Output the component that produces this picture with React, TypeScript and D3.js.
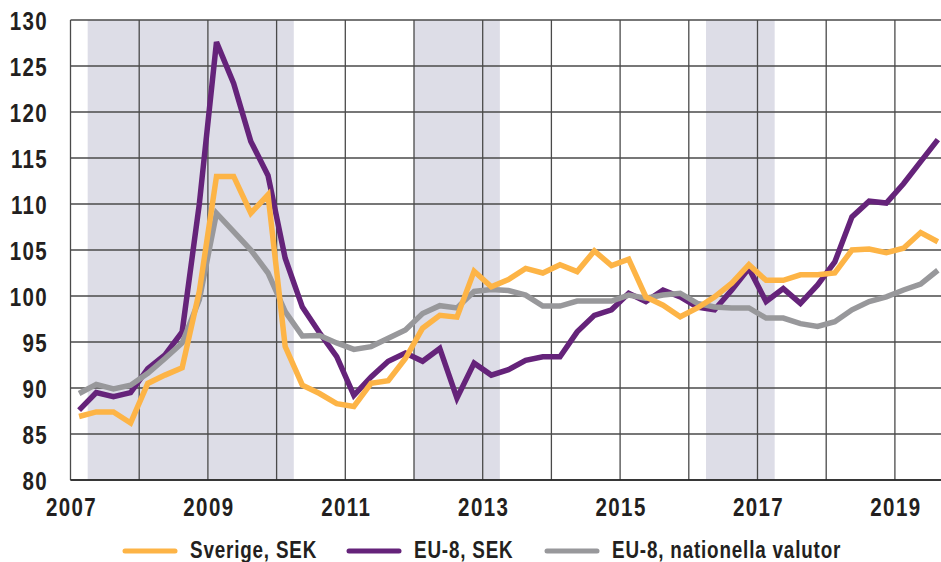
import React from "react";
import * as d3 from "d3";

// Quarterly data 2007Q1 .. 2019Q3
const startYear = 2007;
const sverige = [
  86.9, 87.4, 87.4, 86.2, 90.5, 91.4, 92.2, 100.5, 113.0, 113.0,
  109.0, 111.0, 94.5, 90.3, 89.4, 88.3, 88.0, 90.5, 90.8, 93.2,
  96.5, 97.9, 97.7, 102.7, 101.0, 101.8, 103.0, 102.5, 103.4, 102.65,
  104.9, 103.3, 104.0, 99.9, 99.0, 97.75, 98.7, 99.9, 101.4, 103.4,
  101.7, 101.7, 102.3, 102.3, 102.5, 105.0, 105.1, 104.7, 105.2, 106.9,
  105.9,
];
const eu8Sek = [
  87.6, 89.5, 89.05, 89.5, 92.1, 93.6, 96.1, 110.0, 127.6, 123.1,
  116.8, 113.1, 104.1, 98.8, 96.0, 93.4, 89.2, 91.2, 92.9, 93.8,
  92.9, 94.3, 88.9, 92.7, 91.4, 92.0, 93.0, 93.4, 93.4, 96.1,
  97.9, 98.5, 100.3, 99.4, 100.65, 99.9, 98.8, 98.5, 100.65, 103.0,
  99.4, 100.8, 99.2, 101.2, 103.7, 108.6, 110.3, 110.1, 112.2, 114.6,
  117.0,
];
const eu8Nat = [
  89.4, 90.4, 89.9, 90.3, 91.6, 93.2, 94.9, 99.6, 109.0, 107.0,
  105.0, 102.5, 98.3, 95.65, 95.7, 94.9, 94.2, 94.5, 95.4, 96.3,
  98.1, 98.95, 98.7, 100.5, 100.7, 100.6, 100.1, 98.9, 98.9, 99.45,
  99.45, 99.45, 100.1, 99.75, 100.1, 100.3, 99.2, 98.8, 98.7, 98.7,
  97.6, 97.6, 97.0, 96.7, 97.2, 98.5, 99.4, 99.9, 100.65, 101.3,
  102.8,
];
const yTicks = [80, 85, 90, 95, 100, 105, 110, 115, 120, 125, 130];
const xGridYears = d3.range(2007, 2020);
const xLabelYears = [2007, 2009, 2011, 2013, 2015, 2017, 2019];
const shadedPeriods: [number, number][] = [
  [2007.25, 2010.25],
  [2012.0, 2013.25],
  [2016.25, 2017.25],
];
const seriesNames = ["Sverige, SEK", "EU-8, SEK", "EU-8, nationella valutor"];
const seriesColors = ["#FDB446", "#65237A", "#98989B"];

const W = 941;
const H = 562;
const FONT = "'Liberation Sans', Arial, sans-serif";
const SX = 0.82;

function NarrowText(props: {
  x: number;
  y: number;
  size: number;
  anchor?: string;
  spacing?: number;
  children: React.ReactNode;
}) {
  return (
    <text
      transform={`translate(${props.x},${props.y}) scale(${SX},1)`}
      textAnchor={props.anchor || "start"}
      fontSize={props.size}
      fontWeight="bold"
      letterSpacing={props.spacing || 0}
      fill="#231F20"
    >
      {props.children}
    </text>
  );
}

export default function App() {
  const x = d3.scaleLinear().domain([2007, 2020]).range([70.5, 70.5 + 13 * 68.7]);
  const y = d3.scaleLinear().domain([80, 130]).range([480, 20]);
  const qx = (i: number) => x(startYear + i * 0.25 + 0.125);
  const line = d3
    .line<number>()
    .x((_, i) => qx(i))
    .y((d) => y(d));

  const series = [sverige, eu8Sek, eu8Nat];
  const drawOrder = [1, 2, 0];
  const legendX = [125, 349, 547];

  return (
    <svg
      width={W}
      height={H}
      style={{ position: "absolute", left: 0, top: 0, background: "#fff" }}
      fontFamily={FONT}
    >
      <defs>
        <clipPath id="plotclip">
          <rect x={70} y={0} width={W - 70} height={482} />
        </clipPath>
      </defs>
      {shadedPeriods.map(([a, b], i) => (
        <rect key={i} x={x(a)} y={y(130)} width={x(b) - x(a)} height={y(80) - y(130)} fill="#DDDDE7" />
      ))}
      {yTicks.map((t) => (
        <line key={t} x1={x(2007)} x2={W} y1={y(t)} y2={y(t)} stroke="#4a4a4a" strokeWidth={1.3} />
      ))}
      {xGridYears.map((yr) => (
        <line key={yr} x1={x(yr)} x2={x(yr)} y1={y(130)} y2={y(80)} stroke="#4a4a4a" strokeWidth={1.3} />
      ))}
      <line x1={x(2007)} x2={W} y1={y(80)} y2={y(80)} stroke="#222" strokeWidth={1.6} />
      <g clipPath="url(#plotclip)">
        {drawOrder.map((si) => (
          <path
            key={si}
            d={line(series[si]) || ""}
            fill="none"
            stroke={seriesColors[si]}
            strokeWidth={5.5}
            strokeLinejoin="miter"
          />
        ))}
      </g>
      {yTicks.map((t) => (
        <NarrowText key={t} x={48} y={y(t) + 9.5} size={25} anchor="end" spacing={1.6}>
          {t}
        </NarrowText>
      ))}
      {xLabelYears.map((yr) => (
        <NarrowText key={yr} x={x(yr) + 1} y={516} size={25} anchor="middle" spacing={1.7}>
          {yr}
        </NarrowText>
      ))}
      {seriesNames.map((name, i) => (
        <g key={name}>
          <line
            x1={legendX[i]}
            x2={legendX[i] + 50}
            y1={551}
            y2={551}
            stroke={seriesColors[i]}
            strokeWidth={5}
            strokeLinecap="round"
          />
          <NarrowText x={legendX[i] + 65} y={558} size={23} spacing={1}>
            {name}
          </NarrowText>
        </g>
      ))}
    </svg>
  );
}
